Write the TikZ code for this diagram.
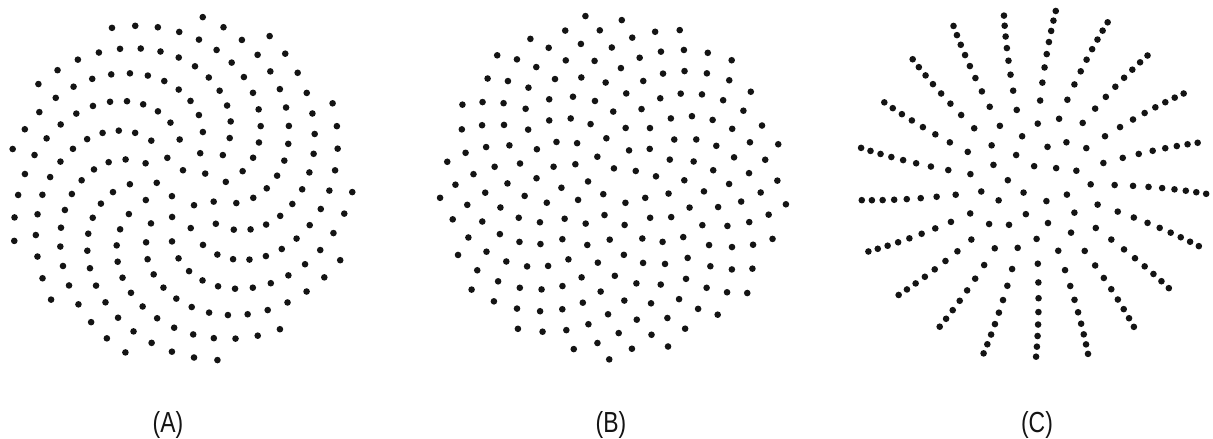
\documentclass[tikz,border=0pt]{standalone}
\usepackage{fontspec}
\setmainfont{Liberation Sans}
\newcommand\phyllo[4]{%
  \foreach \n in {1,...,200}{%
    \edef\px{\fpeval{round(#1+#3*sqrt(\n)*cosd(-\n*#4),3)}}%
    \edef\py{\fpeval{round(#2+#3*sqrt(\n)*sind(-\n*#4),3)}}%
    \fill[dot] (\px,\py) circle (3.3);
  }}
\begin{document}
\begin{tikzpicture}[x=1pt,y=1pt,
  dot/.style={fill=black!92},
  lab/.style={inner sep=0pt, anchor=base, text=black!92, font=\fontsize{29}{30}\selectfont}]
\useasboundingbox (0,0) rectangle (1213,439);
\fill[white] (0,0) rectangle (1213,439);
% (A)
\phyllo{181.2}{251.2}{12.48}{137.88}
% (B)
\phyllo{612.4}{253.2}{12.37}{137.518}
% (C)
\phyllo{1032.8}{255}{12.63}{137.16}
\node[lab] (labA) at (168,6.3) {\scalebox{0.79}[1]{(A)}};
\node[lab] (labB) at (611,6.3) {\scalebox{0.79}[1]{(B)}};
\node[lab] (labC) at (1037,6.3) {\scalebox{0.79}[1]{(C)}};
\end{tikzpicture}
\end{document}
